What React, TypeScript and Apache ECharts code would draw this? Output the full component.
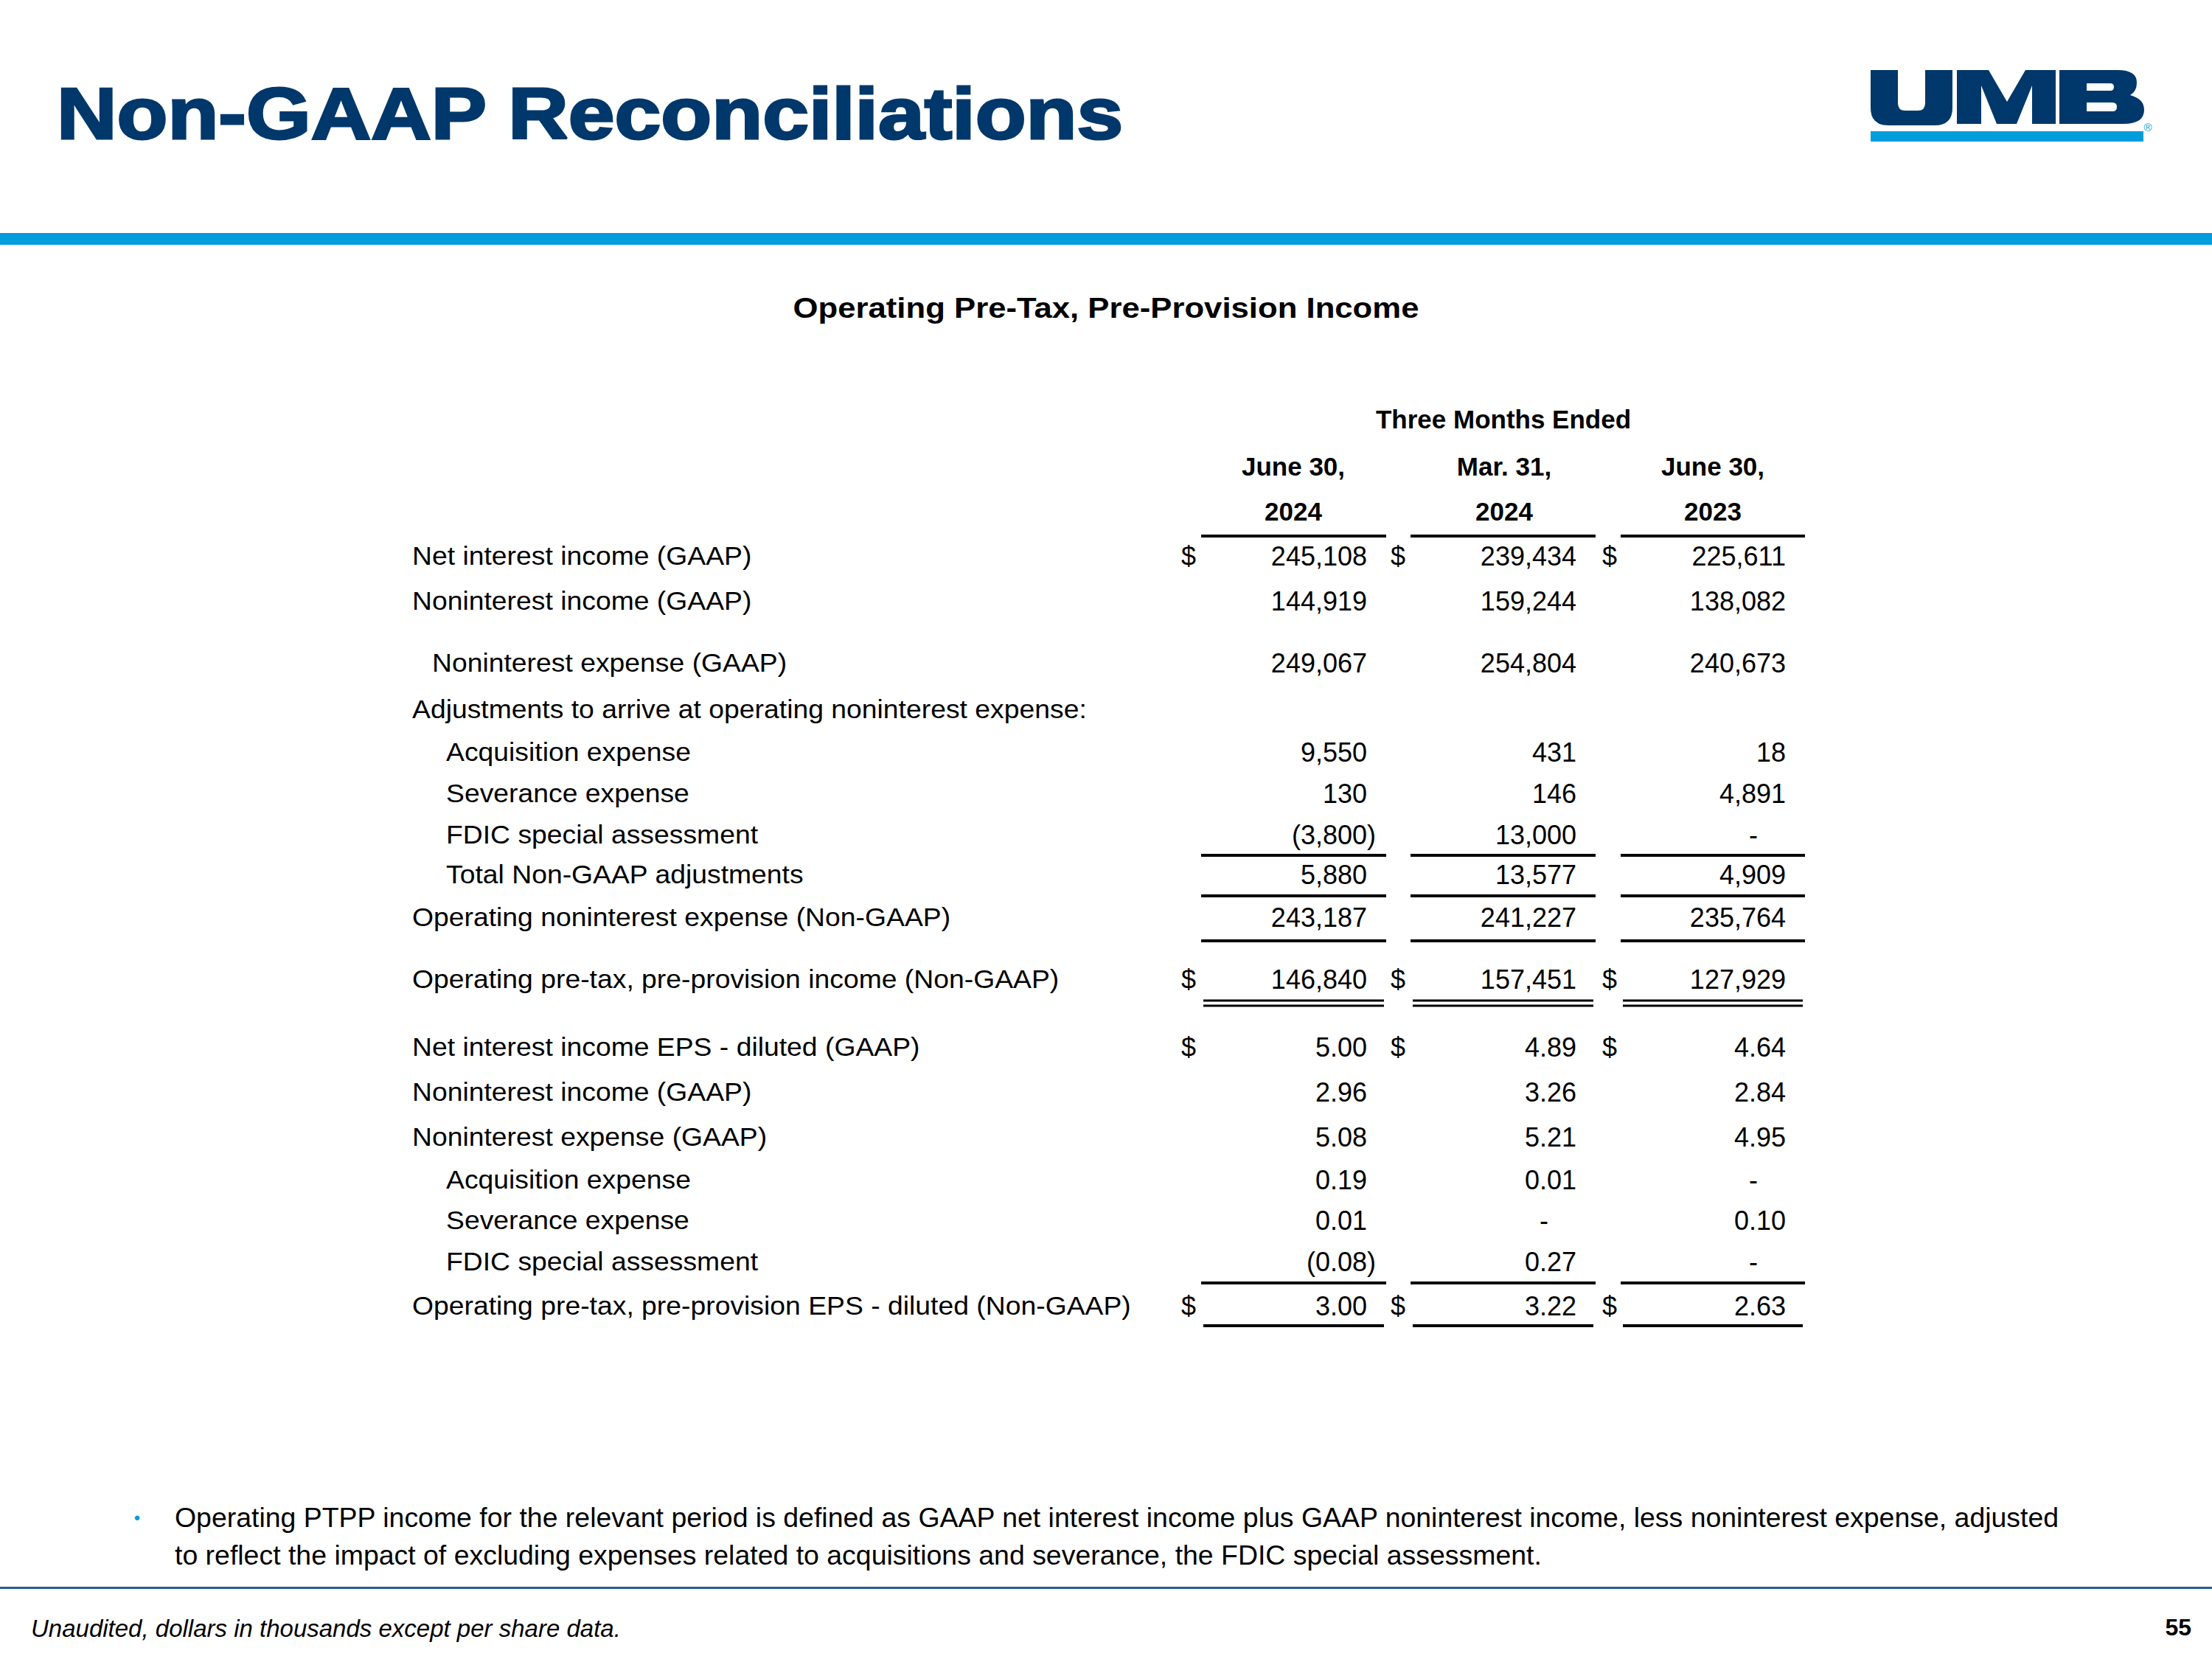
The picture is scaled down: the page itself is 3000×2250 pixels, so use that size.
import React, { useEffect, useRef } from "react";
import * as echarts from "echarts";

// ---------- DATA ----------
const slideTitle = "Non-GAAP Reconciliations";
const tableTitle = "Operating Pre-Tax, Pre-Provision Income";
const periodHeader = "Three Months Ended";
const columnDates = ["June 30,", "Mar. 31,", "June 30,"];
const columnYears = ["2024", "2024", "2023"];

const rowLabels = [
  "Net interest income (GAAP)",
  "Noninterest income (GAAP)",
  "Noninterest expense (GAAP)",
  "Adjustments to arrive at operating noninterest expense:",
  "Acquisition expense",
  "Severance expense",
  "FDIC special assessment",
  "Total Non-GAAP adjustments",
  "Operating noninterest expense (Non-GAAP)",
  "Operating pre-tax, pre-provision income (Non-GAAP)",
  "Net interest income EPS - diluted (GAAP)",
  "Noninterest income (GAAP)",
  "Noninterest expense (GAAP)",
  "Acquisition expense",
  "Severance expense",
  "FDIC special assessment",
  "Operating pre-tax, pre-provision EPS - diluted (Non-GAAP)",
];

const valuesJun2024 = ["245,108", "144,919", "249,067", "", "9,550", "130", "(3,800)", "5,880", "243,187", "146,840", "5.00", "2.96", "5.08", "0.19", "0.01", "(0.08)", "3.00"];
const valuesMar2024 = ["239,434", "159,244", "254,804", "", "431", "146", "13,000", "13,577", "241,227", "157,451", "4.89", "3.26", "5.21", "0.01", "-", "0.27", "3.22"];
const valuesJun2023 = ["225,611", "138,082", "240,673", "", "18", "4,891", "-", "4,909", "235,764", "127,929", "4.64", "2.84", "4.95", "-", "0.10", "-", "2.63"];

const dollarRows = [0, 9, 10, 16];

const footnoteLines = [
  "Operating PTPP income for the relevant period is defined as GAAP net interest income plus GAAP noninterest income, less noninterest expense, adjusted",
  "to reflect the impact of excluding expenses related to acquisitions and severance, the FDIC special assessment.",
];
const sourceNote = "Unaudited, dollars in thousands except per share data.";
const pageNumber = "55";

// ---------- LAYOUT / STYLE ----------
const FONT = "'Liberation Sans', Arial, Helvetica, sans-serif";
const NAVY = "#00386b";
const BLUE = "#009ddc";
const rowY = [754, 815, 899, 962, 1020, 1076, 1132, 1186, 1244, 1328, 1420, 1481, 1542, 1600, 1655, 1711, 1771];
const rowIndent = [559, 559, 586, 559, 605, 605, 605, 605, 559, 559, 559, 559, 559, 605, 605, 605, 559];
const colRight = [1854, 2138, 2422];
const colDollar = [1602, 1886, 2173];
const colCenter = [1754, 2040, 2323];
const lineSpans = [[1629, 1880], [1913, 2164], [2198, 2448]];
const singleRuleY = [727, 1160, 1215, 1276, 1740];
const doubleRuleY = [1357, 1364];
const bottomRuleY = 1798;

const LOGO_U = "M2537 95 H2574 V140 Q2574 150 2584 150 H2601 Q2611 150 2611 140 V95 H2648 V146 Q2648 170 2624 170 H2561 Q2537 170 2537 146 Z";
const LOGO_M = "M2654 95 H2697 L2722 138 L2747 95 H2788 V168 H2756 V116 L2735 168 H2708 L2687 116 V168 H2654 Z";
const LOGO_B = "M2793 95 H2872 Q2898 95 2898 112 Q2898 124 2889 129 Q2908 134 2908 149 Q2908 168 2880 168 H2793 Z " +
  "M2830 113 V123 H2862 Q2867 123 2867 118 Q2867 113 2862 113 Z " +
  "M2830 139 V151 H2865 Q2871 151 2871 145 Q2871 139 2865 139 Z";

echarts.graphic.registerShape("umbLogoU", echarts.graphic.extendPath(LOGO_U, {}));
echarts.graphic.registerShape("umbLogoM", echarts.graphic.extendPath(LOGO_M, {}));
echarts.graphic.registerShape("umbLogoB", echarts.graphic.extendPath(LOGO_B, {}));

function txt(text: string, x: number, y: number, size: number, opts: any = {}) {
  const weight = opts.weight || "normal";
  const style = opts.italic ? "italic " : "";
  const align = opts.align || "left";
  return {
    type: "text",
    x,
    y,
    scaleX: opts.scaleX || 1,
    silent: true,
    style: {
      text,
      font: `${style}${weight} ${size}px ${FONT}`,
      fill: opts.fill || "#000000",
      stroke: opts.stroke,
      lineWidth: opts.lineWidth || 0,
      textAlign: align,
      align,
      textVerticalAlign: "middle",
      verticalAlign: "middle",
    },
  };
}

function rect(x: number, y: number, w: number, h: number, fill: string) {
  return { type: "rect", silent: true, shape: { x, y, width: w, height: h }, style: { fill } };
}

export default function App() {
  const ref = useRef<HTMLDivElement>(null);
  useEffect(() => {
    if (!ref.current) return;
    const chart = echarts.init(ref.current, undefined, { renderer: "svg" });
    const els: any[] = [];

    // background
    els.push(rect(0, 0, 3000, 2250, "#ffffff"));

    // header
    els.push(txt(slideTitle, 77, 153, 99, { weight: "bold", fill: NAVY, stroke: NAVY, lineWidth: 3, scaleX: 1.14 }));
    els.push(rect(0, 316, 3000, 16, BLUE));

    // logo
    els.push({ type: "umbLogoU", silent: true, style: { fill: NAVY } });
    els.push({ type: "umbLogoM", silent: true, style: { fill: NAVY } });
    els.push({ type: "umbLogoB", silent: true, style: { fill: NAVY } });
    els.push(rect(2537, 178, 370, 14, BLUE));
    els.push(txt("®", 2913, 172, 15, { fill: BLUE, align: "center" }));

    // table title & headers
    els.push(txt(tableTitle, 1500, 418, 38, { weight: "bold", align: "center", scaleX: 1.15 }));
    els.push(txt(periodHeader, 2039, 568, 35, { weight: "bold", align: "center" }));
    columnDates.forEach((d, i) => {
      els.push(txt(d, colCenter[i], 632, 35, { weight: "bold", align: "center" }));
      els.push(txt(columnYears[i], colCenter[i], 693, 35, { weight: "bold", align: "center" }));
    });

    // rows
    const cols = [valuesJun2024, valuesMar2024, valuesJun2023];
    rowLabels.forEach((label, r) => {
      els.push(txt(label, rowIndent[r], rowY[r], 36, { scaleX: 1.037 }));
      cols.forEach((vals, c) => {
        const v = vals[r];
        if (!v) return;
        if (v === "-") {
          els.push(txt("-", colRight[c] - 44, rowY[r], 36, { align: "center" }));
        } else if (v.startsWith("(")) {
          els.push(txt(v.slice(0, -1), colRight[c], rowY[r], 36, { align: "right" }));
          els.push(txt(")", colRight[c], rowY[r], 36, { align: "left" }));
        } else {
          els.push(txt(v, colRight[c], rowY[r], 36, { align: "right" }));
        }
        if (dollarRows.includes(r)) {
          els.push(txt("$", colDollar[c], rowY[r], 36));
        }
      });
    });

    // rules
    lineSpans.forEach(([x1, x2]) => {
      singleRuleY.forEach((y) => els.push(rect(x1, y - 2, x2 - x1, 4, "#000000")));
      doubleRuleY.forEach((y) => els.push(rect(x1 + 3, y - 1.5, x2 - x1 - 6, 3, "#000000")));
      els.push(rect(x1 + 3, bottomRuleY - 2, x2 - x1 - 6, 4, "#000000"));
    });

    // footnote
    els.push(txt("•", 186, 2058, 24, { fill: BLUE, align: "center" }));
    footnoteLines.forEach((line, i) => {
      els.push(txt(line, 237, 2059 + i * 51, 36, { scaleX: 1.04 }));
    });

    // footer
    els.push(rect(0, 2152, 3000, 3, "#1f5f94"));
    els.push(txt(sourceNote, 42, 2208, 33, { italic: true }));
    els.push(txt(pageNumber, 2972, 2207, 32, { weight: "bold", align: "right" }));

    chart.setOption({
      animation: false,
      backgroundColor: "#ffffff",
      graphic: { elements: els },
    });
    return () => chart.dispose();
  }, []);

  return (
    <div
      ref={ref}
      style={{ position: "fixed", left: 0, top: 0, width: 3000, height: 2250, background: "#fff" }}
    />
  );
}
